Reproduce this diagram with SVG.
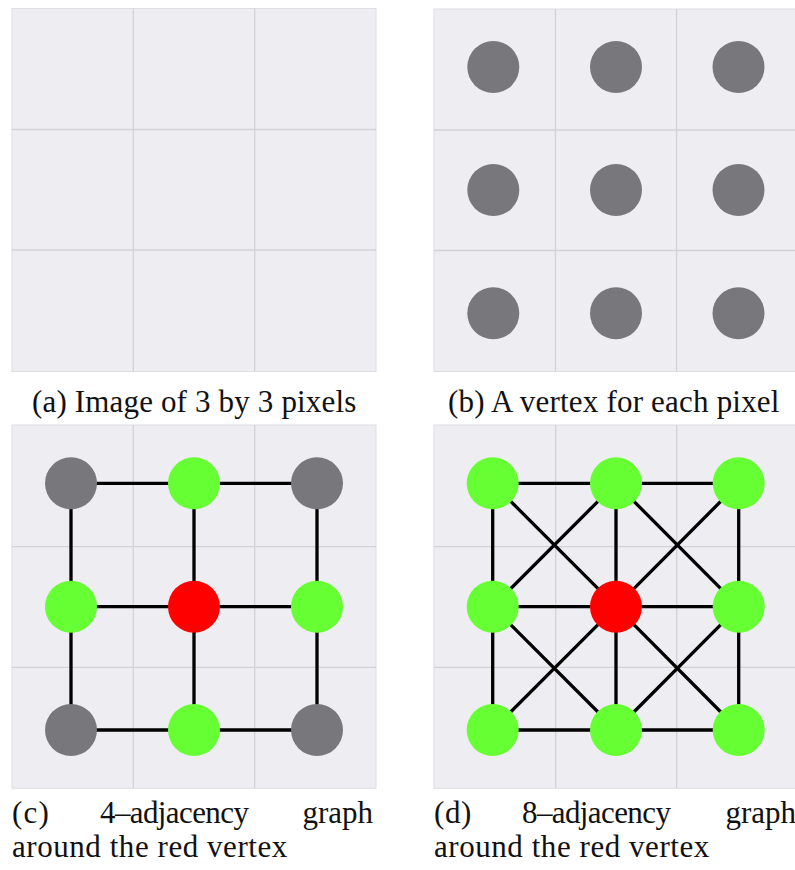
<svg xmlns="http://www.w3.org/2000/svg" width="795" height="870" viewBox="0 0 795 870">
<style>
.bg{fill:#EEEDF2;stroke:#DEDDE2;stroke-width:1}
.grid{stroke:#D3D2D8;stroke-width:1.3;fill:none}
.edge{stroke:#000;stroke-width:3.3;fill:none}
.gray{fill:#78777C}
.green{fill:#66FF33}
.red{fill:#FF0000}
</style>
<rect width="795" height="870" fill="#fff"/>
<g id="panel-a">
<rect class="bg" x="12" y="8.5" width="364" height="363"/>
<path class="grid" d="M133.3 8.5V371.5M254.7 8.5V371.5M12 129.5H376M12 250H376"/>
</g>
<g id="panel-b">
<rect class="bg" x="434" y="9" width="363" height="362.5"/>
<path class="grid" d="M555.5 9V371.5M676.5 9V371.5M434 130H797M434 250.5H797"/>
</g>
<g id="panel-c">
<rect class="bg" x="12" y="425" width="364" height="363.3"/>
<path class="grid" d="M133.3 425V788.3M254.7 425V788.3M12 546.7H376M12 667.3H376"/>
</g>
<g id="panel-d">
<rect class="bg" x="434" y="425" width="363" height="363.3"/>
<path class="grid" d="M555.7 425V788.3M676.7 425V788.3M434 546.7H797M434 667.3H797"/>
</g>
<g id="connectors">
<path class="edge" d="M71 483.3H317M71 606.7H317M71 730H317M71 483.3V730M194 483.3V730M317 483.3V730"/>
<path class="edge" d="M492.7 483.3H738.7M492.7 606.7H738.7M492.7 730H738.7M492.7 483.3V730M616 483.3V730M738.7 483.3V730"/>
<path class="edge" d="M492.7 483.3L616 606.7M616 483.3L492.7 606.7M616 483.3L738.7 606.7M738.7 483.3L616 606.7M492.7 606.7L616 730M616 606.7L492.7 730M616 606.7L738.7 730M738.7 606.7L616 730"/>
</g>
<g id="b-nodes">
<g id="b11"><circle class="gray" cx="493.3" cy="67" r="26"/></g>
<g id="b12"><circle class="gray" cx="616" cy="67" r="26"/></g>
<g id="b13"><circle class="gray" cx="738.5" cy="67" r="26"/></g>
<g id="b21"><circle class="gray" cx="493.3" cy="190" r="26"/></g>
<g id="b22"><circle class="gray" cx="616" cy="190" r="26"/></g>
<g id="b23"><circle class="gray" cx="738.5" cy="190" r="26"/></g>
<g id="b31"><circle class="gray" cx="493.3" cy="313.3" r="26"/></g>
<g id="b32"><circle class="gray" cx="616" cy="313.3" r="26"/></g>
<g id="b33"><circle class="gray" cx="738.5" cy="313.3" r="26"/></g>
</g>
<g id="c-nodes">
<g id="c11"><circle class="gray" cx="71" cy="483.3" r="26"/></g>
<g id="c12"><circle class="green" cx="194" cy="483.3" r="26"/></g>
<g id="c13"><circle class="gray" cx="317" cy="483.3" r="26"/></g>
<g id="c21"><circle class="green" cx="71" cy="606.7" r="26"/></g>
<g id="c22"><circle class="red" cx="194" cy="606.7" r="26"/></g>
<g id="c23"><circle class="green" cx="317" cy="606.7" r="26"/></g>
<g id="c31"><circle class="gray" cx="71" cy="730" r="26"/></g>
<g id="c32"><circle class="green" cx="194" cy="730" r="26"/></g>
<g id="c33"><circle class="gray" cx="317" cy="730" r="26"/></g>
</g>
<g id="d-nodes">
<g id="d11"><circle class="green" cx="492.7" cy="483.3" r="26"/></g>
<g id="d12"><circle class="green" cx="616" cy="483.3" r="26"/></g>
<g id="d13"><circle class="green" cx="738.7" cy="483.3" r="26"/></g>
<g id="d21"><circle class="green" cx="492.7" cy="606.7" r="26"/></g>
<g id="d22"><circle class="red" cx="616" cy="606.7" r="26"/></g>
<g id="d23"><circle class="green" cx="738.7" cy="606.7" r="26"/></g>
<g id="d31"><circle class="green" cx="492.7" cy="730" r="26"/></g>
<g id="d32"><circle class="green" cx="616" cy="730" r="26"/></g>
<g id="d33"><circle class="green" cx="738.7" cy="730" r="26"/></g>
</g>
<g id="captions" fill="#111" font-family="Liberation Serif, serif" font-size="31">
<text x="32" y="412" letter-spacing="0.16">(a) Image of 3 by 3 pixels</text>
<text x="448" y="412" letter-spacing="0.2">(b) A vertex for each pixel</text>
<text x="12" y="823" letter-spacing="1.2">(c)</text>
<text x="100" y="823" letter-spacing="-0.6">4–adjacency</text>
<text x="373" y="823" text-anchor="end">graph</text>
<text x="12" y="857" letter-spacing="0.55">around the red vertex</text>
<text x="434" y="823" letter-spacing="0.6">(d)</text>
<text x="522" y="823" letter-spacing="-0.6">8–adjacency</text>
<text x="796" y="823" text-anchor="end">graph</text>
<text x="434" y="857" letter-spacing="0.55">around the red vertex</text>
</g>
</svg>
